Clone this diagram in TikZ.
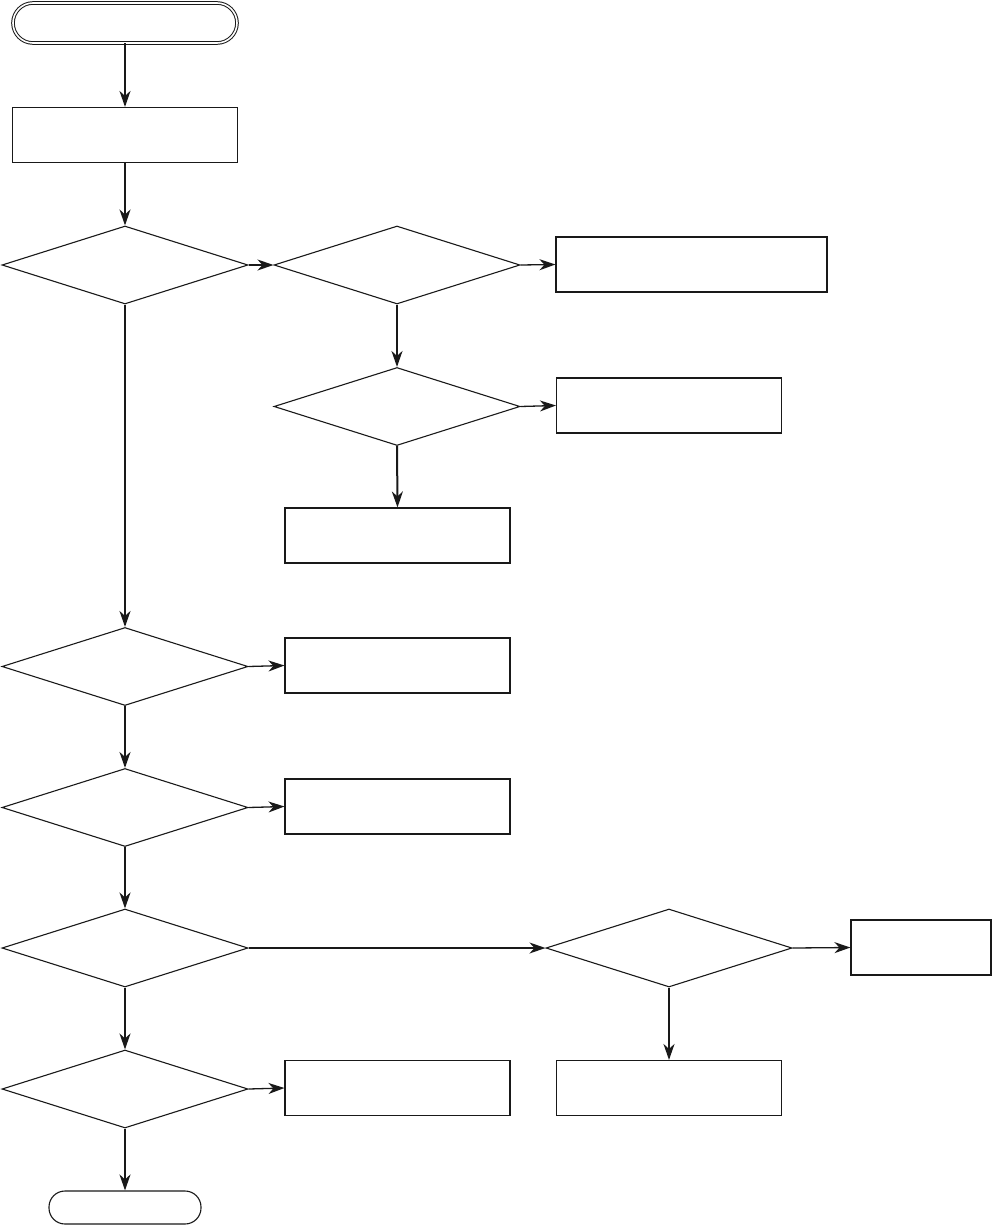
\documentclass[tikz,border=0pt]{standalone}
\usetikzlibrary{shapes.geometric,arrows.meta}
\begin{document}
\begin{tikzpicture}[x=1pt,y=-1pt]
	\tikzstyle{every node}+=[inner sep=0pt]
	\tikzstyle{procbox}=[draw=black!90, line width=1.1pt, minimum width=225pt, minimum height=55pt]
	\tikzstyle{decide}=[draw=black!90, diamond, line width=1.1pt, minimum width=246pt, minimum height=78pt]
	\tikzstyle{down}=[draw=black!90, line width=2pt, -{Stealth[length=16pt,width=11pt,inset=5pt]}]
	\tikzstyle{side}=[draw=black!90, line width=1.3pt, -{Stealth[length=16pt,width=11pt,inset=5pt]}]
	\useasboundingbox (0,0) rectangle (992,1225);
	% start / end
	\node [draw=black!90, line width=1pt, double=white, double distance=1.6pt, rounded corners=20pt, minimum width=224pt, minimum height=40pt] (start) at (125,23) {};
	\node [draw=black!90, line width=1.1pt, rounded corners=16pt, minimum width=152pt, minimum height=33pt] (stop) at (125,1207.5) {};
	% left column
	\node [procbox] (init) at (125,135) {};
	\node [decide] (q1) at (125,265) {};
	\node [decide] (q4) at (125,666.5) {};
	\node [decide] (q5) at (125,807.5) {};
	\node [decide] (q6) at (125,948) {};
	\node [decide] (q8) at (125,1089) {};
	% middle column
	\node [decide] (q2) at (397,265) {};
	\node [decide] (q3) at (397,406.5) {};
	\node [procbox] (act3) at (397.5,535.5) {};
	\node [procbox] (act4) at (397.5,665.5) {};
	\node [procbox] (act5) at (397.5,806.5) {};
	\node [procbox] (act8) at (397.5,1088) {};
	% right column
	\node [procbox, minimum width=271pt] (act1) at (691.5,264.5) {};
	\node [procbox] (act2) at (669,405.5) {};
	\node [decide] (q7) at (669,948) {};
	\node [procbox] (act9) at (669,1088) {};
	\node [procbox, minimum width=140pt] (act7) at (921,947.5) {};
	% connectors
	\draw [down] (start) -- (init);
	\draw [down] (init) -- (q1);
	\draw [side] (q1.east) -- (q2.west);
	\draw [side] (q2.east) -- (act1.west);
	\draw [down] (q2.south) -- (q3.north);
	\draw [side] (q3.east) -- (act2.west);
	\draw [down] (q3.south) -- (act3.north);
	\draw [down] (q1.south) -- (q4.north);
	\draw [side] (q4.east) -- (act4.west);
	\draw [down] (q4.south) -- (q5.north);
	\draw [side] (q5.east) -- (act5.west);
	\draw [down] (q5.south) -- (q6.north);
	\draw [side] (q6.east) -- (q7.west);
	\draw [side] (q7.east) -- (act7.west);
	\draw [down] (q7.south) -- (act9.north);
	\draw [down] (q6.south) -- (q8.north);
	\draw [side] (q8.east) -- (act8.west);
	\draw [down] (q8.south) -- (stop.north);
\end{tikzpicture}
\end{document}
